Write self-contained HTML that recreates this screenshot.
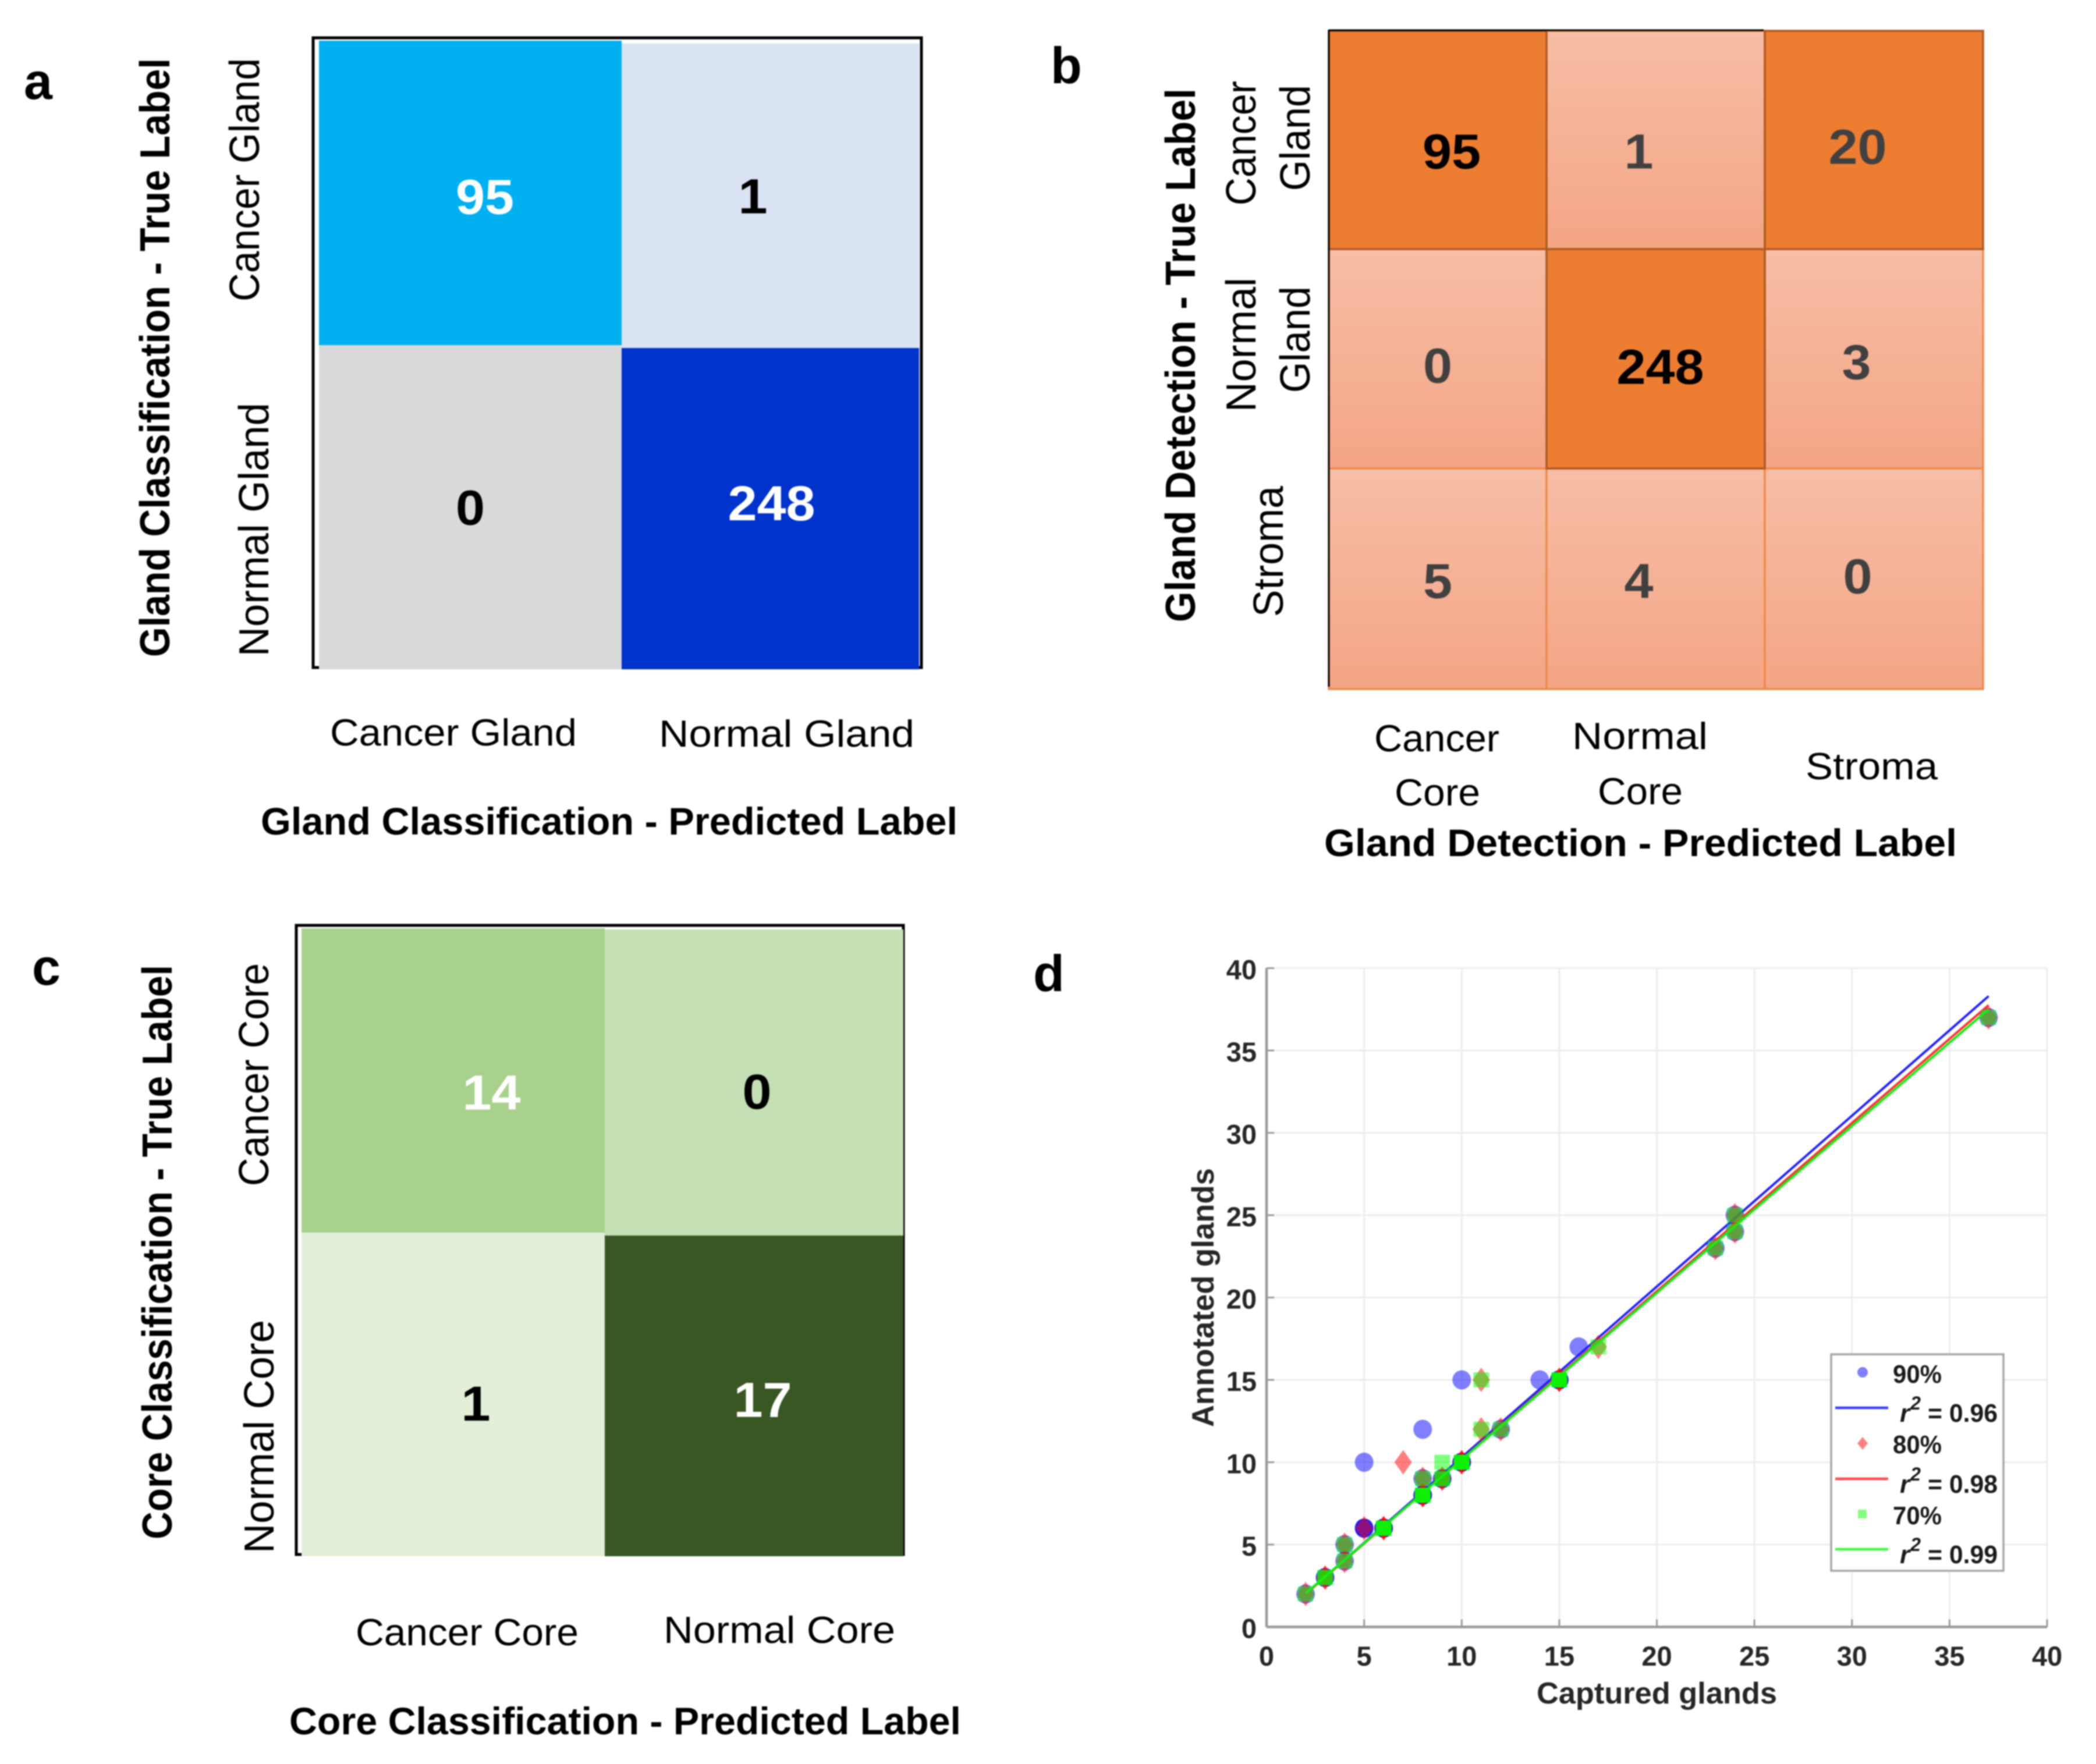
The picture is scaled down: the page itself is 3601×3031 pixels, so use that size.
<!DOCTYPE html>
<html lang="en">
<head>
<meta charset="utf-8">
<title>Gland and core classification results</title>
<style>
html,body{margin:0;padding:0;background:#fff;}
svg{display:block;filter:blur(1px);}
text{font-family:"Liberation Sans",Arial,sans-serif;}
.b{font-weight:700;}
.tick{font-size:65px;fill:#000;}
.rtick{font-size:72px;fill:#000;}
.title{font-size:66px;font-weight:700;fill:#000;}
.rtitle{font-size:72px;font-weight:700;fill:#000;}
.letter{font-size:88px;font-weight:700;fill:#000;}
.dt{font-size:47px;font-weight:700;fill:#262626;}
.lg{font-size:44px;font-weight:700;fill:#1a1a1a;}
</style>
</head>
<body>
<svg id="figure" xmlns="http://www.w3.org/2000/svg" width="3601" height="3031" viewBox="0 0 3601 3031">
<defs>
<linearGradient id="lightCell" x1="0" y1="0" x2="0" y2="1">
<stop offset="0" stop-color="#f7bea6"/>
<stop offset="1" stop-color="#f4a585"/>
</linearGradient>
</defs>
<rect x="0" y="0" width="3601" height="3031" fill="#fff"/>

<g id="panelA">
<text class="letter" x="41" y="170">a</text>
<rect x="538" y="65" width="1045" height="1082" fill="none" stroke="#000" stroke-width="5"/>
<g id="cellsA"></g>
<text class="rtitle" transform="translate(291,1129) rotate(-90)" textLength="1029" lengthAdjust="spacingAndGlyphs">Gland Classification - True Label</text>
<text class="rtick" transform="translate(445,518) rotate(-90)" textLength="418" lengthAdjust="spacingAndGlyphs">Cancer Gland</text>
<text class="rtick" transform="translate(461,1128) rotate(-90)" textLength="436" lengthAdjust="spacingAndGlyphs">Normal Gland</text>
<text class="tick" x="567" y="1281" textLength="424" lengthAdjust="spacingAndGlyphs">Cancer Gland</text>
<text class="tick" x="1132" y="1283" textLength="439" lengthAdjust="spacingAndGlyphs">Normal Gland</text>
<text class="title" x="448" y="1434" textLength="1197" lengthAdjust="spacingAndGlyphs">Gland Classification - Predicted Label</text>
</g>

<g id="panelB">
<text class="letter" x="1805" y="143">b</text>
<g id="cellsB"></g>
<line x1="2283" y1="51" x2="2283" y2="1180" stroke="#000" stroke-width="3"/>
<line x1="2283" y1="52" x2="3030" y2="52" stroke="#000" stroke-width="3"/>
<text class="rtitle" transform="translate(2053,1069) rotate(-90)" textLength="917" lengthAdjust="spacingAndGlyphs">Gland Detection - True Label</text>
<text class="rtick" transform="translate(2157,353) rotate(-90)" textLength="214" lengthAdjust="spacingAndGlyphs">Cancer</text>
<text class="rtick" transform="translate(2250,328) rotate(-90)" textLength="182" lengthAdjust="spacingAndGlyphs">Gland</text>
<text class="rtick" transform="translate(2157,708) rotate(-90)" textLength="231" lengthAdjust="spacingAndGlyphs">Normal</text>
<text class="rtick" transform="translate(2250,675) rotate(-90)" textLength="183" lengthAdjust="spacingAndGlyphs">Gland</text>
<text class="rtick" transform="translate(2204,1060) rotate(-90)" textLength="225" lengthAdjust="spacingAndGlyphs">Stroma</text>
<text class="tick" x="2361" y="1291" textLength="215" lengthAdjust="spacingAndGlyphs">Cancer</text>
<text class="tick" x="2396" y="1384" textLength="147" lengthAdjust="spacingAndGlyphs">Core</text>
<text class="tick" x="2701" y="1287" textLength="233" lengthAdjust="spacingAndGlyphs">Normal</text>
<text class="tick" x="2745" y="1382" textLength="146" lengthAdjust="spacingAndGlyphs">Core</text>
<text class="tick" x="3102" y="1339" textLength="227" lengthAdjust="spacingAndGlyphs">Stroma</text>
<text class="title" x="2275" y="1471" textLength="1087" lengthAdjust="spacingAndGlyphs">Gland Detection - Predicted Label</text>
</g>

<g id="panelC">
<text class="letter" x="55" y="1692">c</text>
<rect x="509" y="1590" width="1043" height="1081" fill="none" stroke="#000" stroke-width="5"/>
<g id="cellsC"></g>
<text class="rtitle" transform="translate(295,2645) rotate(-90)" textLength="987" lengthAdjust="spacingAndGlyphs">Core Classification - True Label</text>
<text class="rtick" transform="translate(461,2038) rotate(-90)" textLength="383" lengthAdjust="spacingAndGlyphs">Cancer Core</text>
<text class="rtick" transform="translate(470,2669) rotate(-90)" textLength="401" lengthAdjust="spacingAndGlyphs">Normal Core</text>
<text class="tick" x="611" y="2827" textLength="383" lengthAdjust="spacingAndGlyphs">Cancer Core</text>
<text class="tick" x="1140" y="2823" textLength="398" lengthAdjust="spacingAndGlyphs">Normal Core</text>
<text class="title" x="497" y="2980" textLength="1154" lengthAdjust="spacingAndGlyphs">Core Classification - Predicted Label</text>
</g>

<g id="panelD">
<text class="letter" x="1775" y="1703">d</text>
<g id="gridD"></g>
<g id="axesD"></g>
<g id="plotD"></g>
<text class="dt" style="font-size:52px" x="2640" y="2927" textLength="413" lengthAdjust="spacingAndGlyphs">Captured glands</text>
<text class="dt" style="font-size:53px" transform="translate(2085,2452) rotate(-90)" textLength="445" lengthAdjust="spacingAndGlyphs">Annotated glands</text>

<g>
<rect x="3146" y="2327" width="296" height="372" fill="#fff" stroke="#a6a6a6" stroke-width="3.5"/>
<circle cx="3200" cy="2358" r="9" fill="#8080ff"/>
<text class="lg" x="3252" y="2376" textLength="84" lengthAdjust="spacingAndGlyphs">90%</text>
<line x1="3153" y1="2419" x2="3244" y2="2419" stroke="#3c3cff" stroke-width="4.5"/>
<text class="lg" x="3264" y="2443"><tspan font-style="italic">r</tspan><tspan font-style="italic" font-size="32" dy="-21" dx="1">2</tspan></text>
<text class="lg" x="3312" y="2443" textLength="120" lengthAdjust="spacingAndGlyphs">= 0.96</text>
<polygon points="3200,2469 3209,2480 3200,2491 3191,2480" fill="#ff8080"/>
<text class="lg" x="3252" y="2497" textLength="84" lengthAdjust="spacingAndGlyphs">80%</text>
<line x1="3153" y1="2541" x2="3244" y2="2541" stroke="#ff4a4a" stroke-width="4.5"/>
<text class="lg" x="3264" y="2565"><tspan font-style="italic">r</tspan><tspan font-style="italic" font-size="32" dy="-21" dx="1">2</tspan></text>
<text class="lg" x="3312" y="2565" textLength="120" lengthAdjust="spacingAndGlyphs">= 0.98</text>
<rect x="3192" y="2594" width="15" height="15" fill="#80ff80"/>
<text class="lg" x="3252" y="2619" textLength="84" lengthAdjust="spacingAndGlyphs">70%</text>
<line x1="3153" y1="2662" x2="3244" y2="2662" stroke="#3cff3c" stroke-width="4.5"/>
<text class="lg" x="3264" y="2686"><tspan font-style="italic">r</tspan><tspan font-style="italic" font-size="32" dy="-21" dx="1">2</tspan></text>
<text class="lg" x="3312" y="2686" textLength="120" lengthAdjust="spacingAndGlyphs">= 0.99</text>
</g>
</g>
</svg>

<script>
// Confusion matrices: rows are true labels, columns are predicted labels.
const glandClassification = [[95, 1], [0, 248]];
const glandDetection = [[95, 1, 20], [0, 248, 3], [5, 4, 0]];
const coreClassification = [[14, 0], [1, 17]];

// Scatter data.
const blueX = [2,3,3,4,4,5,5,5,5,6,6,6,8,8,8,8,8,9,9,10,10,10,10,12,14,15,15,15,16,23,24,24,37];
const blueY = [2,3,3,4,5,6,6,6,10,6,6,6,8,8,8,9,12,9,9,10,10,10,15,12,15,15,15,15,17,23,24,25,37];
const redX = [2,3,3,4,4,5,6,6,6,7,8,8,8,8,9,9,10,10,10,11,11,12,15,15,15,17,23,24,24,37];
const redY = [2,3,3,4,5,6,6,6,6,10,8,8,8,9,9,9,10,10,10,12,15,12,15,15,15,17,23,24,25,37];
const greenX = [2,3,3,4,4,6,6,6,6,8,8,8,8,8,9,9,9,10,10,10,10,11,11,12,15,15,15,15,17,23,24,24,37];
const greenY = [2,3,3,4,5,6,6,6,6,8,8,8,8,9,9,9,10,10,10,10,10,12,15,12,15,15,15,15,17,23,24,25,37];
const fitX = [2, 37];
const blueFit = [2.0, 38.3];
const redFit = [2.0, 37.75];
const greenFit = [2.05, 37.5];
const xTicks = [0, 5, 10, 15, 20, 25, 30, 35, 40];
const yTicks = [0, 5, 10, 15, 20, 25, 30, 35, 40];

const NS = 'http://www.w3.org/2000/svg';

function make(tag, parent, attrs) {
  const el = document.createElementNS(NS, tag);
  for (const k in attrs) el.setAttribute(k, attrs[k]);
  parent.appendChild(el);
  return el;
}

function hex(c) {
  return [parseInt(c.slice(1, 3), 16), parseInt(c.slice(3, 5), 16), parseInt(c.slice(5, 7), 16)];
}

function colorScale(stops, v) {
  if (v <= stops[0][0]) return stops[0][1];
  for (let i = 1; i < stops.length; i++) {
    if (v <= stops[i][0]) {
      const t = (v - stops[i - 1][0]) / (stops[i][0] - stops[i - 1][0]);
      const a = hex(stops[i - 1][1]);
      const b = hex(stops[i][1]);
      return 'rgb(' + a.map((c, j) => Math.round(c + (b[j] - c) * t)).join(',') + ')';
    }
  }
  return stops[stops.length - 1][1];
}

function drawCellValue(parent, value, cx, cy, fill) {
  const digits = String(value).length;
  const t = make('text', parent, {
    x: cx, y: cy + 30, 'text-anchor': 'middle', fill: fill, 'font-size': 84, 'font-weight': 700,
    textLength: digits * 50, lengthAdjust: 'spacingAndGlyphs'
  });
  
  
  t.textContent = value;
}

function drawSolidMatrix(layerId, matrix, layout) {
  const layer = document.getElementById(layerId);
  const colX = (c) => layout.colEdges[c];
  const rowY = (r, c) => layout.rowEdges[c][r];
  matrix.forEach((row, r) => row.forEach((value, c) => {
    const cell = make('rect', layer, {
      x: colX(c), y: rowY(r, c), width: colX(c + 1) - colX(c), height: rowY(r + 1, c) - rowY(r, c),
      fill: colorScale(layout.stops, value)
    });
    
    
  }));
  matrix.forEach((row, r) => row.forEach((value, c) => {
    const cx = (colX(c) + colX(c + 1)) / 2 + layout.nudge[r][c][0];
    const cy = (rowY(r, c) + rowY(r + 1, c)) / 2 + layout.nudge[r][c][1];
    drawCellValue(layer, value, cx, cy, value >= layout.whiteFrom ? '#fff' : '#000');
  }));
}

drawSolidMatrix('cellsA', glandClassification, {
  colEdges: [548, 1068, 1579],
  rowEdges: [[70, 593, 1150], [75, 598, 1150]],
  stops: [[0, '#d9d9d9'], [1, '#dae3f3'], [95, '#00b0f0'], [248, '#0033cc']],
  whiteFrom: 95,
  nudge: [[[25, 6], [-30, 0]], [[0, 0], [2, -10]]]
});

drawSolidMatrix('cellsC', coreClassification, {
  colEdges: [518, 1039, 1552],
  rowEdges: [[1595, 2118, 2674], [1597, 2123, 2674]],
  stops: [[0, '#c5e0b4'], [1, '#e2f0d9'], [14, '#a9d18e'], [17, '#385723']],
  whiteFrom: 14,
  nudge: [[[66, 20], [5, 15]], [[39, 15], [15, 6]]]
});

// Panel b: light gradient cells, blending to solid orange for larger counts.
(function drawDetectionMatrix() {
  const layer = document.getElementById('cellsB');
  const colEdges = [2283, 2657, 3032, 3407];
  const rowEdges = [53, 428, 805, 1184];
  const nudge = [[[24, 19], [-29, 19], [-28, 11]], [[0, 11], [8, 13], [-30, 5]], [[0, 3], [-29, 3], [-28, -5]]];
  const heat = (v) => Math.max(0, Math.min(1, (v - 5) / 15));
  const order = [];
  glandDetection.forEach((row, r) => row.forEach((value, c) => order.push([value, r, c])));
  order.sort((a, b) => heat(a[0]) - heat(b[0]));
  order.forEach(([value, r, c]) => {
    const x = colEdges[c], y = rowEdges[r], w = colEdges[c + 1] - x, h = rowEdges[r + 1] - y;
    const base = make('rect', layer, { x: x, y: y, width: w, height: h, fill: 'url(#lightCell)' });
    
    
    const top = make('rect', layer, {
      x: x, y: y, width: w, height: h, fill: '#ed7d31', 'fill-opacity': heat(value)
    });
    
    
    const edge = make('rect', layer, {
      x: x, y: y, width: w, height: h, fill: 'none', 'stroke-width': 3.5,
      stroke: heat(value) > 0.5 ? '#ae5a21' : '#ee8a4c'
    });
    
    
  });
  glandDetection.forEach((row, r) => row.forEach((value, c) => {
    const cx = (colEdges[c] + colEdges[c + 1]) / 2 + nudge[r][c][0];
    const cy = (rowEdges[r] + rowEdges[r + 1]) / 2 + nudge[r][c][1];
    drawCellValue(layer, value, cx, cy, value >= 95 ? '#000' : '#404040');
  }));
})();

// Panel d axes.
const xScale = (v) => 2176 + v * 33.525;
const yScale = (v) => 2795.5 - v * 28.3;

(function drawAxes() {
  const grid = document.getElementById('gridD');
  const axes = document.getElementById('axesD');
  xTicks.forEach((t) => {
    const g = make('line', grid, { x1: xScale(t), x2: xScale(t), y1: yScale(40), y2: yScale(0), stroke: '#ededed', 'stroke-width': 3 });
    
    
    const m = make('line', axes, { x1: xScale(t), x2: xScale(t), y1: yScale(0), y2: yScale(0) - 13, stroke: '#9a9a9a', 'stroke-width': 3 });
    
    
    const l = make('text', axes, { x: xScale(t), y: 2862, 'text-anchor': 'middle', class: 'dt' });
    
    
    l.textContent = t;
  });
  yTicks.forEach((t) => {
    const g = make('line', grid, { x1: xScale(0), x2: xScale(40), y1: yScale(t), y2: yScale(t), stroke: '#ededed', 'stroke-width': 3 });
    
    
    const m = make('line', axes, { x1: xScale(0), x2: xScale(0) + 13, y1: yScale(t), y2: yScale(t), stroke: '#9a9a9a', 'stroke-width': 3 });
    
    
    const l = make('text', axes, { x: 2159, y: yScale(t) + 19, 'text-anchor': 'end', class: 'dt' });
    
    
    l.textContent = t;
  });
  const ax = make('line', axes, { x1: xScale(0), x2: xScale(40), y1: yScale(0), y2: yScale(0), stroke: '#9a9a9a', 'stroke-width': 4.5 });
  
  
  const ay = make('line', axes, { x1: xScale(0), x2: xScale(0), y1: yScale(40), y2: yScale(0), stroke: '#9a9a9a', 'stroke-width': 4.5 });
  
  
})();

function drawMarker(parent, shape, color, x, y) {
  const cx = xScale(x), cy = yScale(y);
  let el;
  if (shape === 'circle') {
    el = make('ellipse', parent, { cx: cx, cy: cy, rx: 16, ry: 16.5, fill: color, 'fill-opacity': 0.5 });
  } else if (shape === 'diamond') {
    el = make('polygon', parent, {
      points: [cx, cy - 21, cx + 15, cy, cx, cy + 21, cx - 15, cy].join(' '),
      fill: color, 'fill-opacity': 0.5
    });
  } else {
    el = make('rect', parent, { x: cx - 13.5, y: cy - 13, width: 27, height: 26, rx: 2, fill: color, 'fill-opacity': 0.5 });
  }
  
  
}

function drawSeries(parent, xs, ys, shape, color, fit, lineColor) {
  xs.forEach((x, i) => drawMarker(parent, shape, color, x, ys[i]));
  const fitLine = make('line', parent, {
    x1: xScale(fitX[0]), y1: yScale(fit[0]), x2: xScale(fitX[1]), y2: yScale(fit[1]),
    stroke: lineColor, 'stroke-width': 4
  });
  
  
}

const plotLayer = document.getElementById('plotD');
drawSeries(plotLayer, blueX, blueY, 'circle', '#0000ff', blueFit, '#2020ff');
drawSeries(plotLayer, redX, redY, 'diamond', '#ff0000', redFit, '#ff3030');
drawSeries(plotLayer, greenX, greenY, 'square', '#00ff00', greenFit, '#10f010');
</script>
</body>
</html>
